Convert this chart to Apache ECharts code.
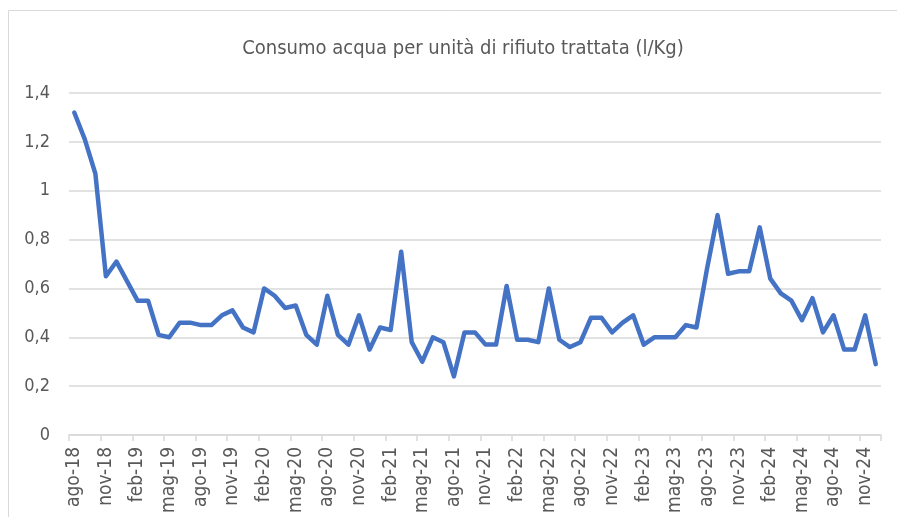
<!DOCTYPE html>
<html>
<head>
<meta charset="utf-8">
<script src="https://cdn.jsdelivr.net/npm/echarts@6/dist/echarts.min.js"></script>
<style>
  html, body { margin: 0; padding: 0; background: #fff; }
  #chart { width: 897px; height: 517px; }
</style>
</head>
<body>
<div id="chart"></div>
<script>
// categorie mensili ago-18 .. dic-24
var mesi = ['gen', 'feb', 'mar', 'apr', 'mag', 'giu', 'lug', 'ago', 'set', 'ott', 'nov', 'dic']
var anni = ['18', '19', '20', '21', '22', '23', '24']
var categorie = []
anni.forEach(function(a, k) {
  mesi.forEach(function(m, j) {
    if (k === 0 && j < 7) return
    categorie.push(m + '-' + a)
  })
})

// consumo acqua (l/Kg)
var consumo = [
  1.32, 1.21, 1.07, 0.65, 0.71,
  0.63, 0.55, 0.55, 0.41, 0.40,
  0.46, 0.46, 0.45, 0.45, 0.49,
  0.51, 0.44, 0.42, 0.60, 0.57,
  0.52, 0.53, 0.41, 0.37, 0.57,
  0.41, 0.37, 0.49, 0.35, 0.44,
  0.43, 0.75, 0.38, 0.30, 0.40,
  0.38, 0.24, 0.42, 0.42, 0.37,
  0.37, 0.61, 0.39, 0.39, 0.38,
  0.60, 0.39, 0.36, 0.38, 0.48,
  0.48, 0.42, 0.46, 0.49, 0.37,
  0.40, 0.40, 0.40, 0.45, 0.44,
  0.68, 0.90, 0.66, 0.67, 0.67,
  0.85, 0.64, 0.58, 0.55, 0.47,
  0.56, 0.42, 0.49, 0.35, 0.35,
  0.49, 0.29
]

var titolo = 'Consumo acqua per unità di rifiuto trattata (l/Kg)'
var font = "'DejaVu Sans Condensed', 'Liberation Sans', sans-serif"
var grigio = '#595959'
var griglia = '#d9d9d9'

var chart = echarts.init(document.getElementById('chart'))
chart.setOption({
  animation: false,
  textStyle: { fontFamily: font },
  graphic: [{
    type: 'rect',
    shape: { x: 8.5, y: 10.5, width: 900, height: 520 },
    style: { fill: 'none', stroke: griglia, lineWidth: 1 }
  }],
  title: {
    text: titolo,
    left: 458,
    textAlign: 'center',
    top: 34,
    textStyle: { color: grigio, fontSize: 20, fontWeight: 'normal', fontFamily: font }
  },
  grid: { left: 69, right: 16, top: 93, bottom: 82, containLabel: false },
  xAxis: {
    type: 'category',
    data: categorie,
    boundaryGap: true,
    axisLine: { lineStyle: { color: griglia, width: 1.5 } },
    axisTick: { show: true, interval: 2, length: 6, lineStyle: { color: griglia, width: 1.5 } },
    axisLabel: { interval: 2, rotate: 90, color: grigio, fontSize: 19, margin: 12, fontFamily: font }
  },
  yAxis: {
    type: 'value',
    min: 0,
    max: 1.4,
    interval: 0.2,
    axisLine: { show: false },
    axisTick: { show: false },
    splitLine: { lineStyle: { color: griglia, width: 1.5 } },
    axisLabel: {
      color: grigio,
      fontSize: 18,
      margin: 19,
      fontFamily: font,
      formatter: function(v) {
        return String(Math.round(v * 10) / 10).replace('.', ',')
      }
    }
  },
  series: [{
    type: 'line',
    data: consumo,
    symbol: 'none',
    lineStyle: { color: '#4472C4', width: 4.5, cap: 'round', join: 'round' }
  }]
})
</script>
</body>
</html>
